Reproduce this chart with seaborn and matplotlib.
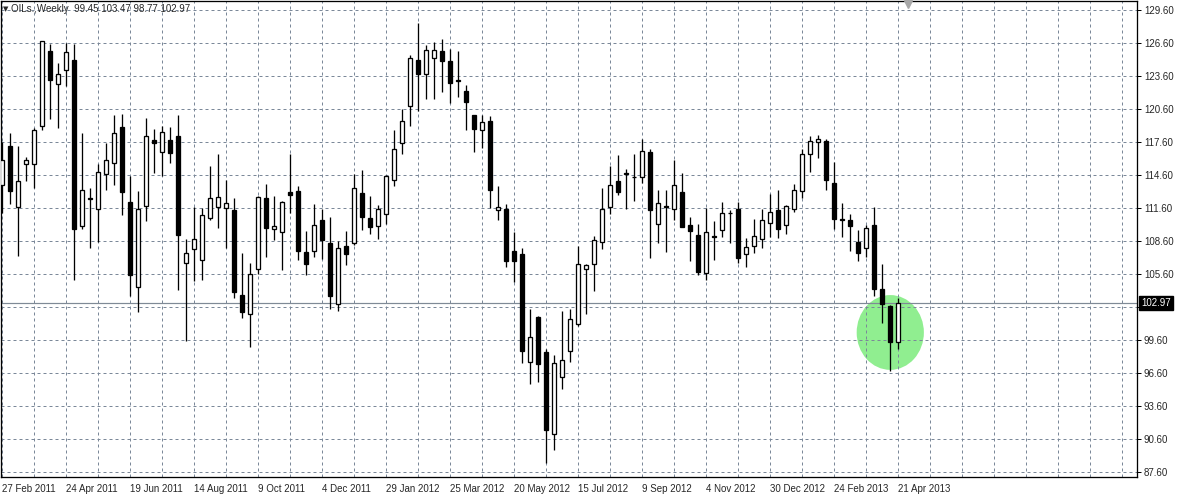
import numpy as np
import pandas as pd
import matplotlib
matplotlib.use("Agg")
import matplotlib.pyplot as plt
import matplotlib.transforms as mtransforms
from matplotlib.patches import Ellipse
import seaborn as sns

# weekly OHLC, first bar = week of 27 Feb 2011
opens = [113.7, 117.3, 111.7, 115.6, 115.6, 119.1, 125.9, 122.9, 124.2, 125.1,
         110.0, 112.5, 111.5, 114.7, 115.7, 119.0, 112.2, 104.4, 111.8, 117.8,
         116.7, 117.8, 118.2, 106.6, 107.9, 106.9, 110.7, 111.7, 111.6, 111.4,
         103.7, 102.0, 106.1, 112.5, 109.7, 109.4, 113.1, 113.2, 107.6, 107.7,
         110.5, 108.4, 102.9, 108.2, 108.4, 113.0, 110.7, 110.0, 111.1, 114.2,
         117.5, 120.9, 125.1, 123.8, 125.3, 125.9, 125.0, 123.3, 122.3, 120.1,
         118.7, 119.5, 111.4, 111.5, 107.7, 107.4, 97.6, 101.7, 98.5, 91.1,
         96.3, 98.6, 101.1, 106.1, 106.5, 108.5, 111.7, 114.1, 114.8, 114.45,
         114.4, 116.7, 110.2, 111.8, 111.5, 113.1, 110.1, 109.2, 105.7, 109.1,
         109.6, 111.15, 111.5, 107.4, 108.2, 108.8, 110.3, 111.4, 110.1, 111.5,
         113.2, 116.5, 117.6, 117.7, 113.9, 110.6, 110.5, 108.5, 108.0, 110.1,
         104.3, 102.7, 99.45]
highs = [117.6, 118.4, 117.3, 116.3, 118.9, 126.8, 126.5, 124.8, 126.6, 126.5,
         118.4, 113.4, 115.6, 117.5, 120.1, 120.2, 114.5, 113.2, 119.8, 118.8,
         119.1, 119.0, 120.1, 108.8, 111.7, 111.6, 115.4, 116.5, 114.2, 112.5,
         107.5, 106.6, 112.7, 113.8, 112.7, 112.3, 116.5, 113.6, 109.5, 112.0,
         111.5, 110.8, 108.6, 109.5, 114.7, 115.1, 112.7, 111.9, 114.6, 118.7,
         120.6, 125.5, 128.4, 126.4, 126.7, 127.0, 126.1, 125.9, 122.8, 120.1,
         120.1, 120.0, 113.6, 112.0, 109.4, 108.0, 102.4, 101.8, 98.8, 98.3,
         102.3, 102.4, 108.2, 106.5, 109.1, 113.4, 115.4, 116.4, 115.2, 116.5,
         117.9, 117.0, 113.3, 113.3, 116.0, 114.8, 110.8, 110.2, 111.6, 110.4,
         112.2, 111.4, 112.2, 108.9, 110.6, 111.5, 112.9, 113.3, 111.9, 113.8,
         117.0, 118.2, 118.3, 117.9, 115.8, 112.1, 111.1, 109.6, 110.1, 111.7,
         106.5, 102.8, 103.47]
lows = [111.2, 112.0, 107.3, 114.1, 113.4, 118.7, 119.7, 118.9, 122.7, 105.1,
        109.7, 108.0, 108.5, 113.3, 113.7, 111.0, 103.6, 102.2, 110.4, 114.8,
        114.5, 115.7, 104.2, 99.5, 105.0, 105.1, 110.5, 109.8, 108.0, 103.4,
        101.6, 99.0, 105.6, 107.2, 108.7, 106.0, 111.2, 106.9, 105.5, 107.2,
        107.0, 102.4, 102.3, 106.4, 108.3, 109.6, 109.3, 108.8, 110.2, 113.6,
        116.5, 119.1, 120.4, 121.5, 121.5, 122.2, 121.2, 121.7, 118.7, 116.7,
        117.1, 111.6, 110.5, 106.3, 104.9, 97.5, 95.6, 95.8, 88.4, 89.6,
        95.2, 97.6, 100.9, 102.0, 104.1, 107.9, 111.1, 112.8, 111.5, 112.3,
        113.9, 107.1, 108.4, 107.6, 110.5, 109.9, 106.8, 105.5, 105.1, 106.9,
        109.0, 108.4, 106.6, 106.3, 107.5, 108.0, 109.0, 108.9, 109.3, 111.3,
        112.5, 114.9, 116.2, 113.3, 109.7, 109.0, 107.7, 106.8, 107.2, 103.6,
        101.2, 96.8, 98.77]
closes = [116.0, 113.2, 114.1, 116.0, 118.7, 126.8, 123.3, 123.8, 125.8, 109.7,
          113.3, 112.4, 114.9, 116.0, 118.4, 113.1, 105.5, 111.5, 118.2, 117.5,
          118.5, 116.6, 109.2, 107.5, 108.8, 111.0, 112.5, 112.6, 112.1, 104.0,
          102.2, 105.6, 112.6, 109.8, 110.0, 112.2, 112.8, 107.7, 106.5, 110.1,
          108.7, 103.6, 108.0, 107.4, 113.4, 110.8, 109.9, 111.5, 114.5, 117.0,
          119.5, 125.3, 123.8, 126.0, 126.0, 125.0, 123.0, 123.2, 121.3, 118.8,
          119.4, 113.3, 111.7, 106.8, 106.8, 98.6, 99.9, 97.4, 91.4, 97.5,
          97.8, 101.5, 106.5, 106.4, 108.7, 111.5, 113.7, 113.1, 114.7, 114.4,
          116.8, 111.4, 112.1, 111.75, 113.7, 109.9, 109.5, 105.8, 109.4, 109.0,
          111.2, 111.2, 107.1, 108.1, 109.1, 110.5, 111.3, 109.7, 111.8, 113.3,
          116.5, 117.7, 117.9, 114.2, 110.6, 110.5, 110.0, 107.5, 109.8, 104.3,
          102.9, 99.4, 102.97]

first_week = "2011-02-27"
date_labels = ["27 Feb 2011", "24 Apr 2011", "19 Jun 2011", "14 Aug 2011",
               "9 Oct 2011", "4 Dec 2011", "29 Jan 2012", "25 Mar 2012",
               "20 May 2012", "15 Jul 2012", "9 Sep 2012", "4 Nov 2012",
               "30 Dec 2012", "24 Feb 2013", "21 Apr 2013"]
price_ticks = [87.60, 90.60, 93.60, 96.60, 99.60, 102.60, 105.60, 108.60,
               111.60, 114.60, 117.60, 120.60, 123.60, 126.60, 129.60]
last_price = 102.97
title = "OILs.,Weekly  99.45 103.47 98.77 102.97"

sns.set_style("white")
plt.rcParams['font.family'] = ['Liberation Sans', 'DejaVu Sans']

df = pd.DataFrame({"open": opens, "high": highs, "low": lows, "close": closes})
df["week"] = pd.date_range(first_week, periods=len(df), freq="7D")
df["x"] = np.arange(len(df))
up = df["close"] >= df["open"]

px = 0.72  # one pixel in points
grid_col = "#7b8899"

fig = plt.figure(figsize=(11.77, 4.95), dpi=100)
ax = fig.add_axes([1 / 1177, 18 / 495, 1136 / 1177, 476 / 495])
ax.set_facecolor("white")

# highlight of the last bars
ax.add_patch(Ellipse((111.0, 100.31), 8.4, 6.8, facecolor="#90ee90",
                     edgecolor="none", zorder=1))

# grid
for k in range(0, 142, 4):
    ax.axvline(k, color=grid_col, lw=px, ls=(0, (3, 3)), zorder=2)
for p in price_ticks:
    ax.axhline(p, color=grid_col, lw=px, ls=(0, (3, 3)), zorder=2)
ax.axhline(last_price, color="#7f8a96", lw=px * 1.2, zorder=2.5)

# candles
ax.vlines(df["x"], df["low"], df["high"], color="black", lw=px * 1.3, zorder=3)
body_lo = np.minimum(df["open"], df["close"])
body_h = np.maximum((df["close"] - df["open"]).abs(), 0.04)
ax.bar(df["x"][up], body_h[up], bottom=body_lo[up], width=0.55,
       color="white", edgecolor="black", linewidth=px * 1.3, zorder=4)
ax.bar(df["x"][~up], body_h[~up], bottom=body_lo[~up], width=0.55,
       color="black", edgecolor="black", linewidth=px * 1.3, zorder=4)

ax.set_xlim(-0.16, 141.84)
ax.set_ylim(87.17, 130.445)

# axes
for s in ax.spines.values():
    s.set_color("black")
    s.set_linewidth(px * 1.3)
ax.yaxis.tick_right()
ax.set_yticks(price_ticks)
ax.set_yticklabels([f"{p:.2f}" for p in price_ticks])
ax.set_xticks(np.arange(0, len(df), 8))
ax.set_xticklabels(date_labels)
ax.tick_params(axis="both", which="major", direction="out", length=3,
               width=px, color="black", labelsize=7, pad=2)
for lab in ax.get_xticklabels():
    lab.set_horizontalalignment("left")
trans = mtransforms.blended_transform_factory(ax.transAxes, ax.transData)
ax.text(1.0035, last_price, "102.97", transform=trans, ha="left", va="center",
        fontsize=7, color="white", zorder=10,
        bbox=dict(facecolor="black", edgecolor="black", pad=1.6))

# shift marker and title
ax.plot([113.2], [130.2], marker="v", color="#a8a8a8", ms=6, clip_on=False,
        zorder=6)
fig.text(3 / 1177, 1 - 9 / 495, "\u25bc", fontsize=5, va="center",
         family=["DejaVu Sans"])
fig.text(11 / 1177, 1 - 9 / 495, title, fontsize=7, va="center")

fig.savefig("out.png", dpi=100)
